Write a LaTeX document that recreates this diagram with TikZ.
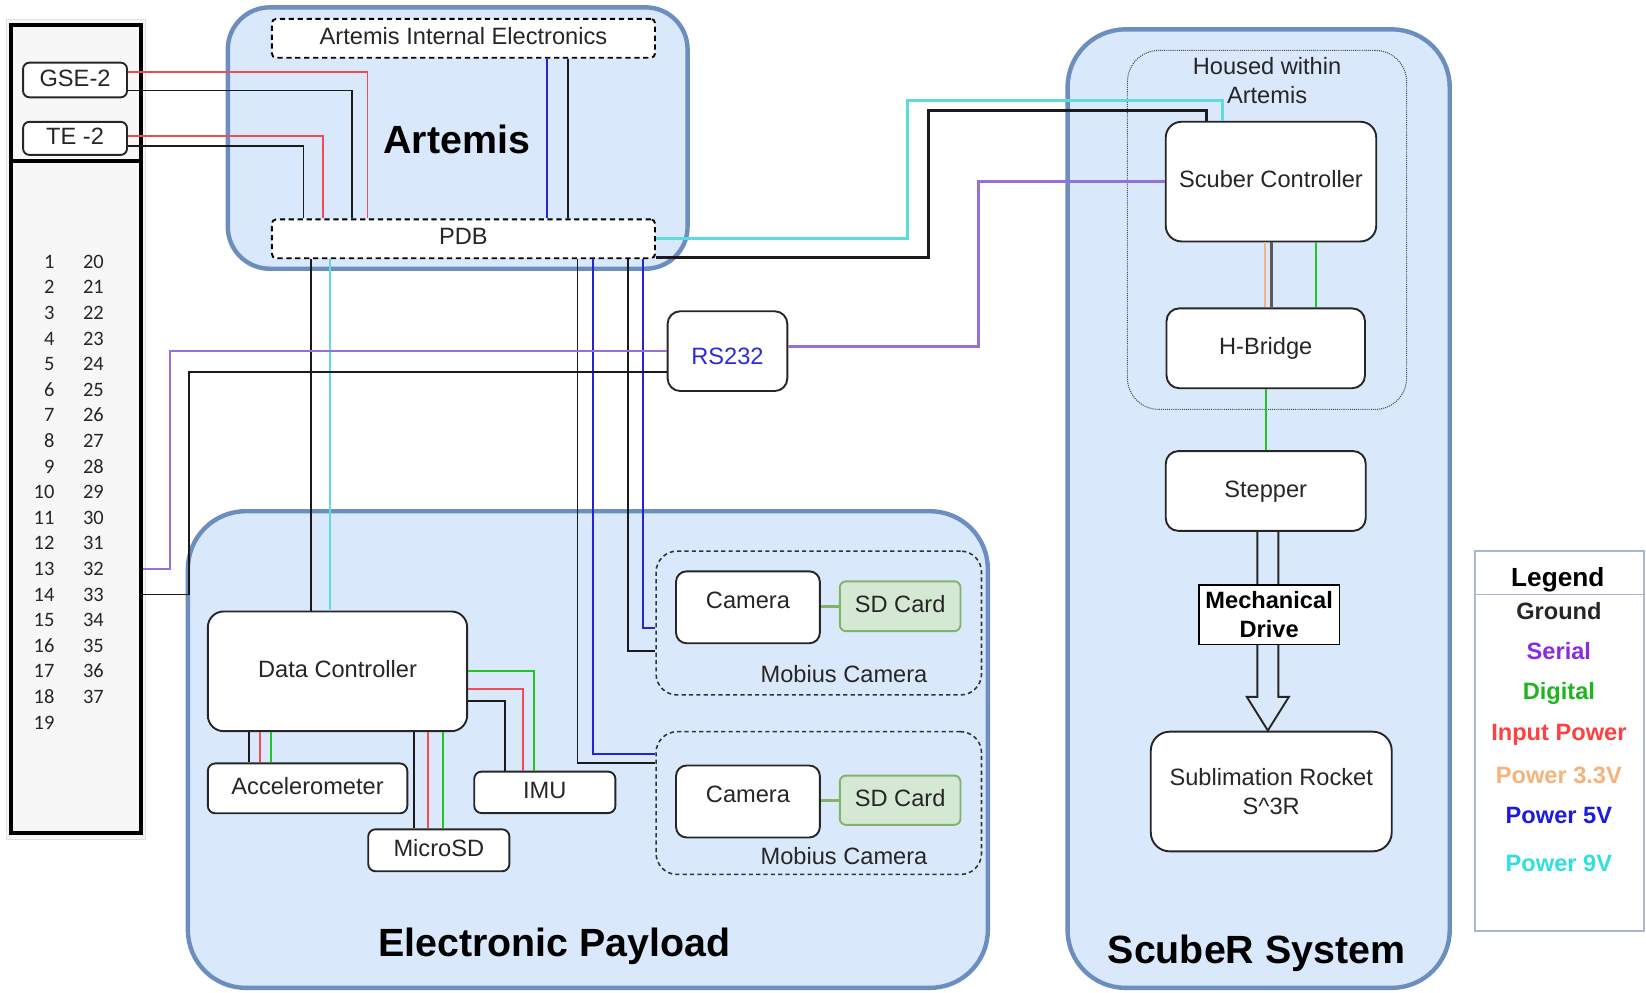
\documentclass[tikz,border=0pt]{standalone}
\usepackage{fontspec}
\setmainfont{Liberation Sans}
\newfontfamily\pinfamily{Carlito}
\usetikzlibrary{positioning,calc}
\tikzset{
	>=latex,
}
\definecolor{grpfill}{HTML}{DAE8FC}
\definecolor{grpline}{HTML}{6C8EBF}
\definecolor{sdfill}{HTML}{D5E8D4}
\definecolor{sdline}{HTML}{82B366}
\definecolor{txt}{HTML}{262626}
\definecolor{legline}{HTML}{A9B8CC}
% wire colours
\definecolor{wgnd}{HTML}{1A1A1A}
\definecolor{wser}{HTML}{9470D8}
\definecolor{wdig}{HTML}{22C422}
\definecolor{winp}{HTML}{F24B55}
\definecolor{wthree}{HTML}{F0B487}
\definecolor{wfive}{HTML}{2424D6}
\definecolor{wnine}{HTML}{5CDCDC}
% legend text colours
\definecolor{tser}{HTML}{8A2BE2}
\definecolor{tdig}{HTML}{1FB51F}
\definecolor{tinp}{HTML}{FF4040}
\definecolor{tthree}{HTML}{F5B27A}
\definecolor{tfive}{HTML}{1C1CE0}
\definecolor{tnine}{HTML}{2EE0E0}
\definecolor{rsblue}{HTML}{2B2BD9}
\newcommand\boxfont{\fontsize{22.5}{27.5}\selectfont}
\newcommand\bigfont{\fontsize{37.5}{45}\selectfont\bfseries}

\begin{document}
\begin{tikzpicture}[x=1pt,y=-1pt,
		grp/.style={rectangle, draw=grpline, line width=4.2pt, fill=grpfill, rounded corners=55pt, inner sep=0pt},
		blk/.style={rectangle, draw=txt, line width=1.8pt, fill=white, rounded corners=10pt, inner sep=0pt,
			font=\boxfont, text=txt, text height=16pt, text depth=4.5pt},
		dbox/.style={blk, draw=black, dash pattern=on 5pt off 3.5pt, rounded corners=4pt},
		mob/.style={rectangle, draw=black!80, line width=1.5pt, dash pattern=on 4pt off 3pt, rounded corners=20pt, inner sep=0pt},
		sdbox/.style={blk, fill=sdfill, draw=sdline, rounded corners=6pt},
		lbltxt/.style={font=\boxfont, text=txt, inner sep=0pt},
		pinno/.style={font=\pinfamily\fontsize{19.5}{20}\selectfont, text=txt, inner sep=0pt},
		legitem/.style={font=\boxfont\bfseries, inner sep=0pt, anchor=base},
		wire/.style={line width=1.8pt},
		heavy/.style={line width=2.8pt},
		gnd/.style={wire, draw=wgnd},
		ser/.style={wire, draw=wser},
		dig/.style={wire, draw=wdig},
		inpow/.style={wire, draw=winp},
		pthree/.style={wire, draw=wthree},
		pfive/.style={wire, draw=wfive},
		pnine/.style={wire, draw=wnine},
	]
	\useasboundingbox (0,0) rectangle (1568,945);

	% connector panel
	\node(connbg)[rectangle, fill=black!3, draw=black!12, line width=1pt, inner sep=0pt,
		minimum width=132.5pt, minimum height=781pt] at (72.75,409.5) {};
	\node(conn)[rectangle, draw=black, line width=3.5pt, inner sep=0pt,
		minimum width=123.4pt, minimum height=769.8pt] at (72.3,408.7) {};
	\draw[line width=3.5pt] ($(conn.north west)+(0,131)$) -- ($(conn.north east)+(0,131)$);
	\node(gse)[blk, rounded corners=6pt, minimum width=99pt, minimum height=33pt] at (71.5,76.2) {GSE-2};
	\node(te)[blk, rounded corners=6pt, minimum width=99pt, minimum height=31.5pt] at (71.5,131.8) {TE -2};
	\foreach \i in {1,...,19}
		\node(pinA\i)[pinno, anchor=base east] at (52,{255.5+(\i-1)*24.39}) {\i};
	\foreach \i in {20,...,37}
		\node(pinB\i)[pinno, anchor=base] at (89,{255.5+(\i-20)*24.39}) {\i};

	% Artemis
	\node(art)[grp, rounded corners=40pt, minimum width=438pt, minimum height=249pt] at (436,131.5) {};
	\node(arttitle)[font=\bigfont, anchor=base] at (435,146) {Artemis};
	\node(aie)[dbox, minimum width=365pt, minimum height=37pt] at (441.5,36.5) {Artemis Internal Electronics};
	\node(pdb)[dbox, minimum width=365pt, minimum height=37pt] at (441.5,227.5) {PDB};
	\node(rs)[blk, rounded corners=12pt, text=rsblue, text height=29.5pt,
		minimum width=114pt, minimum height=76pt] at (693,334.5) {RS232};

	% electronic payload
	\node(pay)[grp, minimum width=762pt, minimum height=454pt] at (560,714) {};
	\node(paytitle)[font=\bigfont, anchor=base] at (528,911) {Electronic Payload};
	\node(dc)[blk, rounded corners=15pt, minimum width=247pt, minimum height=114pt] at (321.5,639.5) {Data Controller};
	\node(acc)[blk, rounded corners=7pt, minimum width=190pt, minimum height=47.5pt] at (293,751) {Accelerometer};
	\node(msd)[blk, rounded corners=7pt, minimum width=134.5pt, minimum height=40pt] at (418,810) {MicroSD};
	\node(imu)[blk, rounded corners=7pt, minimum width=134.5pt, minimum height=39.5pt] at (519,754.8) {IMU};
	\node(moba)[mob, minimum width=310pt, minimum height=137pt] at (780,593.5) {};
	\node(mobb)[mob, minimum width=310pt, minimum height=136pt] at (780,765) {};
	\node(mobalbl)[lbltxt, anchor=base] at (804,650) {Mobius Camera};
	\node(mobblbl)[lbltxt, anchor=base] at (804,823.5) {Mobius Camera};
	\node(cama)[blk, text depth=14pt, minimum width=137pt, minimum height=68.5pt] at (712.5,578.5) {Camera};
	\node(camb)[blk, text depth=14pt, minimum width=137pt, minimum height=68.5pt] at (712.5,763.5) {Camera};
	\node(sda)[sdbox, minimum width=115pt, minimum height=47.5pt] at (857.5,577.5) {SD Card};
	\node(sdb)[sdbox, minimum width=115pt, minimum height=47pt] at (857.5,762.3) {SD Card};

	% ScubeR system
	\node(scb)[grp, minimum width=364pt, minimum height=913pt] at (1199,484.5) {};
	\node(scbtitle)[font=\bigfont, anchor=base] at (1197,918) {ScubeR System};
	\node(housed)[rectangle, draw=black!70, line width=1pt, dash pattern=on 1pt off 1pt, rounded corners=30pt,
		minimum width=266pt, minimum height=342pt] at (1207,219) {};
	\node(housedlbl)[lbltxt, align=center] at (1207,77) {Housed within\\Artemis};
	\node(ctrl)[blk, rounded corners=15pt, minimum width=200.5pt, minimum height=114pt] at (1210.75,173) {Scuber Controller};
	\node(hb)[blk, rounded corners=12pt, minimum width=189pt, minimum height=76pt] at (1205.75,331.8) {H-Bridge};
	\node(stp)[blk, rounded corners=12pt, minimum width=190.5pt, minimum height=76pt] at (1205.75,467.7) {Stepper};
	\node(rkt)[blk, rounded corners=18pt, align=center, text height=, text depth=,
		minimum width=229.5pt, minimum height=114pt] at (1211,754) {Sublimation Rocket\\S\textasciicircum 3R};
	\draw[line width=1.8pt, draw=txt, line join=miter]
		(stp.south) ++(-8,0) -- ++(0,157.3) -- ++(-10,0) -- ++(20,32) -- ++(20,-32) -- ++(-10,0) -- ++(0,-157.3);
	\node(mech)[rectangle, draw=black, line width=1.8pt, fill=white, font=\boxfont\bfseries, align=center, inner sep=0pt,
		minimum width=134pt, minimum height=57pt] at (1209,585.5) {Mechanical\\Drive};

	% legend
	\node(leg)[rectangle, draw=legline, line width=2pt, fill=white, inner sep=0pt,
		minimum width=161pt, minimum height=362pt] at (1485.5,706) {};
	\draw[draw=legline, line width=1.2pt] ($(leg.north west)+(0,42.5)$) -- ($(leg.north east)+(0,42.5)$);
	\node(leghead)[legitem, font=\fontsize{25}{30}\selectfont\bfseries] at (1484,558.5) {Legend};
	\node(leggnd)[legitem, text=txt] at (1485,590) {Ground};
	\node(legser)[legitem, text=tser] at (1485,628.7) {Serial};
	\node(legdig)[legitem, text=tdig] at (1485,666.8) {Digital};
	\node(leginp)[legitem, text=tinp] at (1485,705) {Input Power};
	\node(legthree)[legitem, text=tthree] at (1485,746.6) {Power 3.3V};
	\node(legfive)[legitem, text=tfive] at (1485,784) {Power 5V};
	\node(legnine)[legitem, text=tnine] at (1485,830.3) {Power 9V};

	% harness into the PDB
	\draw[inpow] ($(gse.east)+(0,-8)$) -| ($(pdb.north west)+(92,0)$);
	\draw[gnd] ($(gse.east)+(0,10)$) -| ($(pdb.north west)+(77,0)$);
	\draw[inpow] ($(te.east)+(0,-2)$) -| ($(pdb.north west)+(50,0)$);
	\draw[gnd] ($(te.east)+(0,7)$) -| ($(pdb.north west)+(31,0)$);
	\draw[pfive] ($(aie.south west)+(263,0)$) coordinate(k) -- (k |- pdb.north);
	\draw[gnd] ($(aie.south west)+(283,0)$) coordinate(k) -- (k |- pdb.north);

	% PDB to the payload
	\draw[gnd] ($(pdb.south west)+(38,0)$) coordinate(k) -- (k |- dc.north);
	\draw[pnine] ($(pdb.south west)+(56,0)$) coordinate(k) -- (k |- dc.north);
	\draw[gnd] ($(pdb.south west)+(292,0)$) |- ($(mobb.west)+(0,-38)$);
	\draw[pfive] ($(pdb.south west)+(307,0)$) |- ($(mobb.west)+(0,-47)$);
	\draw[gnd] ($(pdb.south west)+(340,0)$) |- ($(moba.west)+(0,26.5)$);
	\draw[pfive] ($(pdb.south west)+(354.5,0)$) |- ($(moba.west)+(0,4.5)$);

	% PDB and RS232 to the ScubeR controller
	\draw[pnine, heavy] (pdb.east) -- ++(240,0) |- ($(ctrl.north)+(-46,-19)$) -- ($(ctrl.north)+(-46,0)$);
	\draw[gnd, heavy] ($(pdb.south east)+(0,-1.5)$) -- ++(260,0) |- ($(ctrl.north)+(-61,-10)$) -- ($(ctrl.north)+(-61,0)$);
	\draw[ser, heavy] (ctrl.west) -| ($(rs.east)+(181,-4.5)$) -- ($(rs.east)+(0,-4.5)$);
	\draw[ser] (rs.west) -| ($(conn.east |- pinB32)+(26,0)$) -- (conn.east |- pinB32);
	\draw[gnd] ($(rs.west)+(0,19.5)$) -| ($(conn.east |- pinB33)+(44.5,0)$) -- (conn.east |- pinB33);

	% data controller to sensors
	\draw[gnd] ($(dc.south west)+(40.5,0)$) coordinate(k) -- (k |- acc.north);
	\draw[inpow] ($(dc.south west)+(50.5,0)$) coordinate(k) -- (k |- acc.north);
	\draw[dig] ($(dc.south west)+(61,0)$) coordinate(k) -- (k |- acc.north);
	\draw[gnd] ($(dc.south west)+(197,0)$) coordinate(k) -- (k |- msd.north);
	\draw[inpow] ($(dc.south west)+(211,0)$) coordinate(k) -- (k |- msd.north);
	\draw[dig] ($(dc.south west)+(225,0)$) coordinate(k) -- (k |- msd.north);
	\draw[dig] (dc.east) -| ($(imu.north west)+(57.5,0)$);
	\draw[inpow] ($(dc.east)+(0,16.5)$) -| ($(imu.north west)+(47.5,0)$);
	\draw[gnd] ($(dc.east)+(0,28.5)$) -| ($(imu.north west)+(30,0)$);
	\draw[draw=sdline, line width=3pt] (cama.east |- sda.west) -- (sda.west);
	\draw[draw=sdline, line width=3pt] (camb.east |- sdb.west) -- (sdb.west);

	% controller down to the stepper
	\draw[pthree, line width=1.8pt] ($(ctrl.south)+(-5.5,0)$) coordinate(k) -- (k |- hb.north);
	\draw[gnd, draw=black!65, line width=2.2pt] ($(ctrl.south)+(0.5,0)$) coordinate(k) -- (k |- hb.north);
	\draw[dig] ($(ctrl.south)+(43,0)$) coordinate(k) -- (k |- hb.north);
	\draw[dig] (hb.south) -- (stp.north);
\end{tikzpicture}
\end{document}
